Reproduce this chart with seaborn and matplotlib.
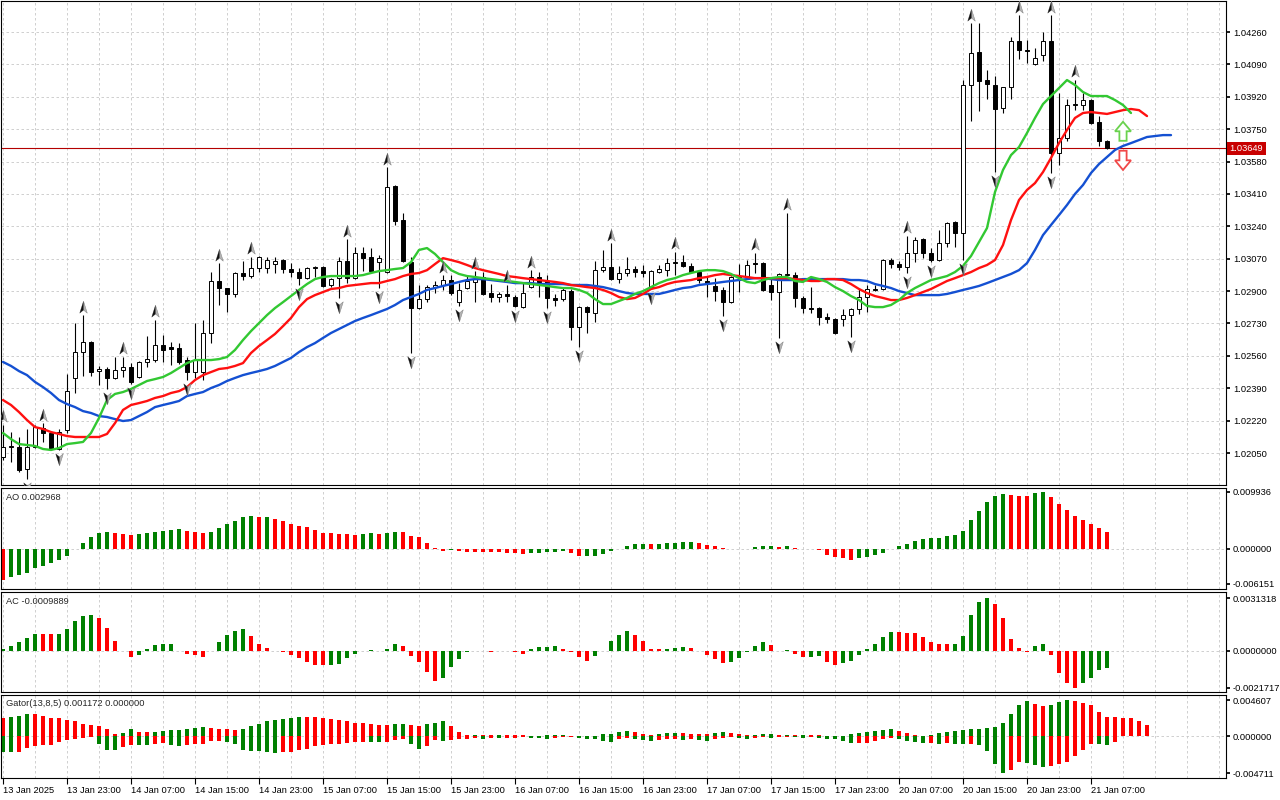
import numpy as np
import pandas as pd
import matplotlib
matplotlib.use("Agg")
import matplotlib.pyplot as plt
import matplotlib.transforms as mtransforms
from matplotlib.path import Path
from matplotlib.patches import Polygon
import seaborn as sns

# ---------------- data (H1 bars, 13 Jan 15:00 -> 21 Jan 09:00) ----------------
opens = [
    1.02029, 1.02081, 1.02081, 1.01966, 1.02081, 1.02181, 1.02155, 1.02071, 1.02171, 1.02444,
    1.02580, 1.02633, 1.02480, 1.02491, 1.02444, 1.02485, 1.02501, 1.02449, 1.02528, 1.02538,
    1.02617, 1.02606, 1.02601, 1.02538, 1.02475, 1.02475, 1.02680, 1.02953, 1.02916, 1.02884,
    1.02995, 1.02979, 1.03021, 1.03021, 1.03042, 1.03063, 1.03016, 1.03000, 1.02968, 1.03021,
    1.03026, 1.02932, 1.02968, 1.03058, 1.02968, 1.03100, 1.03079, 1.03052, 1.03000, 1.03451,
    1.03273, 1.03052, 1.02811, 1.02858, 1.02921, 1.02932, 1.02958, 1.02842, 1.02916, 1.02947,
    1.02974, 1.02890, 1.02869, 1.02884, 1.02869, 1.02816, 1.02921, 1.02974, 1.02953, 1.02863,
    1.02858, 1.02900, 1.02711, 1.02816, 1.02785, 1.03010, 1.03026, 1.02963, 1.02995, 1.03016,
    1.03005, 1.02921, 1.03000, 1.03010, 1.03047, 1.03052, 1.03031, 1.03000, 1.02953, 1.02927,
    1.02905, 1.02842, 1.02974, 1.02979, 1.03047, 1.03047, 1.02932, 1.02895, 1.02984, 1.02984,
    1.02863, 1.02811, 1.02811, 1.02764, 1.02753, 1.02753, 1.02774, 1.02806, 1.02869, 1.02905,
    1.02911, 1.03063, 1.03042, 1.03026, 1.03100, 1.03173, 1.03100, 1.03063, 1.03152, 1.03262,
    1.03205, 1.03982, 1.04155, 1.04008, 1.03982, 1.03861, 1.03971, 1.04213, 1.04165, 1.04092,
    1.04139, 1.04213, 1.03625, 1.03703, 1.03877, 1.03877, 1.03903, 1.03787, 1.03688,
]
highs = [
    1.02197, 1.02160, 1.02134, 1.02176, 1.02197, 1.02207, 1.02160, 1.02176, 1.02465, 1.02732,
    1.02774, 1.02638, 1.02507, 1.02501, 1.02554, 1.02554, 1.02522, 1.02533, 1.02664, 1.02748,
    1.02669, 1.02633, 1.02627, 1.02554, 1.02732, 1.02748, 1.03000, 1.03047, 1.02916, 1.03000,
    1.03058, 1.03079, 1.03084, 1.03079, 1.03079, 1.03068, 1.03047, 1.03021, 1.03026, 1.03031,
    1.03031, 1.02968, 1.03079, 1.03173, 1.03131, 1.03131, 1.03126, 1.03089, 1.03551, 1.03457,
    1.03310, 1.03079, 1.02932, 1.02932, 1.02953, 1.02984, 1.02984, 1.02942, 1.02979, 1.03005,
    1.03000, 1.02937, 1.02895, 1.02932, 1.02879, 1.02942, 1.03010, 1.03000, 1.02984, 1.02884,
    1.02916, 1.02911, 1.02821, 1.02821, 1.03058, 1.03115, 1.03152, 1.03031, 1.03079, 1.03031,
    1.03037, 1.03010, 1.03037, 1.03073, 1.03105, 1.03089, 1.03047, 1.03010, 1.02974, 1.02968,
    1.02921, 1.02979, 1.03042, 1.03063, 1.03100, 1.03052, 1.02963, 1.02995, 1.03310, 1.03000,
    1.02874, 1.02921, 1.02816, 1.02785, 1.02758, 1.02806, 1.02811, 1.02916, 1.02932, 1.02932,
    1.03068, 1.03073, 1.03058, 1.03189, 1.03184, 1.03178, 1.03126, 1.03220, 1.03262, 1.03268,
    1.04008, 1.04307, 1.04307, 1.04060, 1.04029, 1.03971, 1.04234, 1.04349, 1.04218, 1.04176,
    1.04260, 1.04349, 1.03940, 1.03908, 1.04008, 1.03940, 1.03908, 1.03819, 1.03693,
]
lows = [
    1.02013, 1.02002, 1.01950, 1.01913, 1.02076, 1.02108, 1.02066, 1.02066, 1.02155, 1.02365,
    1.02454, 1.02454, 1.02407, 1.02386, 1.02438, 1.02449, 1.02412, 1.02444, 1.02501, 1.02528,
    1.02528, 1.02512, 1.02517, 1.02433, 1.02444, 1.02433, 1.02627, 1.02827, 1.02790, 1.02869,
    1.02958, 1.02968, 1.03000, 1.02995, 1.02995, 1.02995, 1.02974, 1.02932, 1.02963, 1.02974,
    1.02921, 1.02921, 1.02863, 1.02942, 1.02963, 1.03005, 1.03000, 1.02916, 1.02995, 1.03247,
    1.03052, 1.02575, 1.02806, 1.02842, 1.02890, 1.02905, 1.02879, 1.02821, 1.02911, 1.02842,
    1.02879, 1.02842, 1.02842, 1.02842, 1.02816, 1.02811, 1.02916, 1.02869, 1.02811, 1.02821,
    1.02848, 1.02643, 1.02606, 1.02680, 1.02737, 1.03000, 1.02958, 1.02942, 1.02979, 1.02974,
    1.02974, 1.02911, 1.02995, 1.02979, 1.02984, 1.03026, 1.02995, 1.02942, 1.02869, 1.02848,
    1.02769, 1.02837, 1.02895, 1.02974, 1.02995, 1.02900, 1.02853, 1.02653, 1.02979, 1.02816,
    1.02785, 1.02785, 1.02722, 1.02732, 1.02674, 1.02716, 1.02659, 1.02779, 1.02790, 1.02900,
    1.02905, 1.03021, 1.03010, 1.02995, 1.03052, 1.03073, 1.03052, 1.03058, 1.03131, 1.03131,
    1.03063, 1.03793, 1.03845, 1.03908, 1.03525, 1.03835, 1.03908, 1.04118, 1.04097, 1.04087,
    1.04108, 1.03520, 1.03562, 1.03688, 1.03850, 1.03850, 1.03777, 1.03661, 1.03646,
]
closes = [
    1.02081, 1.02087, 1.01961, 1.02081, 1.02186, 1.02155, 1.02071, 1.02160, 1.02375, 1.02580,
    1.02633, 1.02475, 1.02491, 1.02444, 1.02485, 1.02501, 1.02423, 1.02528, 1.02543, 1.02617,
    1.02591, 1.02596, 1.02528, 1.02475, 1.02538, 1.02680, 1.02953, 1.02916, 1.02884, 1.02995,
    1.02979, 1.03021, 1.03079, 1.03063, 1.03058, 1.03016, 1.03000, 1.02968, 1.03021, 1.03026,
    1.02927, 1.02963, 1.03058, 1.02968, 1.03100, 1.03073, 1.03005, 1.03073, 1.03446, 1.03268,
    1.03058, 1.02811, 1.02858, 1.02921, 1.02932, 1.02958, 1.02890, 1.02905, 1.02953, 1.02963,
    1.02884, 1.02869, 1.02884, 1.02874, 1.02821, 1.02890, 1.02974, 1.02947, 1.02863, 1.02853,
    1.02905, 1.02711, 1.02816, 1.02790, 1.03010, 1.03026, 1.02963, 1.02995, 1.03016, 1.03000,
    1.02995, 1.03005, 1.03016, 1.03047, 1.03052, 1.03031, 1.03000, 1.02958, 1.02942, 1.02900,
    1.02842, 1.02974, 1.02979, 1.03037, 1.03042, 1.02905, 1.02895, 1.02989, 1.02989, 1.02863,
    1.02811, 1.02806, 1.02764, 1.02753, 1.02680, 1.02774, 1.02806, 1.02869, 1.02911, 1.02911,
    1.03063, 1.03042, 1.03026, 1.03100, 1.03168, 1.03100, 1.03063, 1.03152, 1.03257, 1.03205,
    1.03982, 1.04150, 1.04003, 1.03987, 1.03856, 1.03971, 1.04213, 1.04165, 1.04160, 1.04123,
    1.04213, 1.03625, 1.03703, 1.03877, 1.03882, 1.03903, 1.03782, 1.03688, 1.03649,
]

# Alligator lines (already shifted forward: jaw +8, teeth +5, lips +3)
jaw = [
    1.02528, 1.02507, 1.02480, 1.02459, 1.02423, 1.02396, 1.02365, 1.02328, 1.02307, 1.02291,
    1.02270, 1.02260, 1.02244, 1.02239, 1.02228, 1.02218, 1.02223, 1.02244, 1.02265, 1.02291,
    1.02302, 1.02312, 1.02323, 1.02349, 1.02360, 1.02370, 1.02391, 1.02407, 1.02428, 1.02444,
    1.02459, 1.02470, 1.02480, 1.02491, 1.02507, 1.02528, 1.02549, 1.02580, 1.02606, 1.02627,
    1.02654, 1.02680, 1.02701, 1.02722, 1.02743, 1.02759, 1.02774, 1.02790, 1.02806, 1.02827,
    1.02853, 1.02869, 1.02885, 1.02906, 1.02916, 1.02927, 1.02937, 1.02948, 1.02958, 1.02963,
    1.02963, 1.02958, 1.02953, 1.02948, 1.02942, 1.02942, 1.02942, 1.02937, 1.02937, 1.02937,
    1.02937, 1.02932, 1.02932, 1.02932, 1.02927, 1.02921, 1.02911, 1.02900, 1.02890, 1.02885,
    1.02885, 1.02885, 1.02885, 1.02895, 1.02906, 1.02916, 1.02921, 1.02932, 1.02937, 1.02942,
    1.02948, 1.02953, 1.02958, 1.02963, 1.02968, 1.02968, 1.02963, 1.02958, 1.02958, 1.02958,
    1.02963, 1.02963, 1.02963, 1.02963, 1.02963, 1.02963, 1.02958, 1.02958, 1.02953, 1.02937,
    1.02927, 1.02916, 1.02900, 1.02890, 1.02879, 1.02879, 1.02879, 1.02879, 1.02885, 1.02895,
    1.02906, 1.02916, 1.02927, 1.02942, 1.02958, 1.02974, 1.02990, 1.03010, 1.03047, 1.03116,
    1.03194, 1.03247, 1.03299, 1.03352, 1.03410, 1.03457, 1.03520, 1.03567, 1.03604, 1.03641,
    1.03662, 1.03677, 1.03693, 1.03709, 1.03714, 1.03719, 1.03719,
]
teeth = [
    1.02328, 1.02302, 1.02265, 1.02223, 1.02186, 1.02176, 1.02160, 1.02150, 1.02139, 1.02134,
    1.02134, 1.02134, 1.02134, 1.02150, 1.02207, 1.02276, 1.02302, 1.02312, 1.02323, 1.02339,
    1.02349, 1.02365, 1.02375, 1.02396, 1.02433, 1.02459, 1.02475, 1.02491, 1.02496, 1.02507,
    1.02522, 1.02575, 1.02612, 1.02643, 1.02675, 1.02716, 1.02759, 1.02816, 1.02858, 1.02879,
    1.02895, 1.02911, 1.02916, 1.02927, 1.02932, 1.02937, 1.02942, 1.02942, 1.02953, 1.02963,
    1.02979, 1.02990, 1.02995, 1.03010, 1.03042, 1.03073, 1.03063, 1.03052, 1.03037, 1.03021,
    1.03010, 1.03000, 1.02990, 1.02979, 1.02974, 1.02968, 1.02963, 1.02958, 1.02953, 1.02948,
    1.02942, 1.02932, 1.02927, 1.02921, 1.02916, 1.02906, 1.02890, 1.02869, 1.02858, 1.02864,
    1.02885, 1.02911, 1.02921, 1.02937, 1.02948, 1.02953, 1.02958, 1.02968, 1.02974, 1.02984,
    1.02990, 1.02984, 1.02979, 1.02974, 1.02968, 1.02968, 1.02968, 1.02968, 1.02968, 1.02963,
    1.02958, 1.02953, 1.02953, 1.02963, 1.02963, 1.02958, 1.02937, 1.02911, 1.02890, 1.02874,
    1.02864, 1.02853, 1.02853, 1.02864, 1.02879, 1.02895, 1.02911, 1.02932, 1.02953, 1.02968,
    1.02984, 1.03000, 1.03021, 1.03037, 1.03063, 1.03142, 1.03273, 1.03378, 1.03431, 1.03467,
    1.03525, 1.03599, 1.03677, 1.03746, 1.03809, 1.03835, 1.03840, 1.03835, 1.03830, 1.03840,
    1.03850, 1.03856, 1.03850, 1.03819,
]
lips = [
    1.02155, 1.02123, 1.02097, 1.02092, 1.02087, 1.02071, 1.02066, 1.02076, 1.02097, 1.02102,
    1.02108, 1.02155, 1.02234, 1.02328, 1.02360, 1.02370, 1.02386, 1.02407, 1.02428, 1.02438,
    1.02449, 1.02470, 1.02496, 1.02522, 1.02538, 1.02538, 1.02538, 1.02543, 1.02554, 1.02591,
    1.02643, 1.02690, 1.02732, 1.02774, 1.02811, 1.02842, 1.02874, 1.02906, 1.02937, 1.02963,
    1.02974, 1.02979, 1.02979, 1.02979, 1.02979, 1.02984, 1.02995, 1.03005, 1.03010, 1.03016,
    1.03021, 1.03052, 1.03116, 1.03126, 1.03095, 1.03052, 1.03010, 1.02990, 1.02979, 1.02974,
    1.02968, 1.02963, 1.02958, 1.02953, 1.02948, 1.02942, 1.02937, 1.02932, 1.02927, 1.02921,
    1.02916, 1.02916, 1.02906, 1.02890, 1.02858, 1.02832, 1.02832, 1.02848, 1.02864, 1.02885,
    1.02900, 1.02921, 1.02942, 1.02958, 1.02968, 1.02984, 1.02995, 1.03005, 1.03010, 1.03010,
    1.03005, 1.02990, 1.02968, 1.02948, 1.02942, 1.02958, 1.02968, 1.02974, 1.02974, 1.02953,
    1.02948, 1.02974, 1.02963, 1.02948, 1.02921, 1.02900, 1.02874, 1.02853, 1.02822, 1.02816,
    1.02816, 1.02827, 1.02853, 1.02890, 1.02916, 1.02937, 1.02958, 1.02968, 1.02979, 1.03000,
    1.03032, 1.03084, 1.03158, 1.03231, 1.03420, 1.03536, 1.03614, 1.03656, 1.03730, 1.03809,
    1.03882, 1.03924, 1.03966, 1.04008, 1.03982, 1.03945, 1.03924, 1.03924, 1.03924, 1.03903,
    1.03877, 1.03835,
]

ao_values = [
    -0.00540, -0.00498, -0.00462, -0.00420, -0.00342, -0.00300, -0.00252, -0.00198, -0.00120, -0.00012,
    0.00108, 0.00198, 0.00282, 0.00300, 0.00282, 0.00252, 0.00240, 0.00258, 0.00270, 0.00300,
    0.00306, 0.00330, 0.00342, 0.00318, 0.00288, 0.00282, 0.00300, 0.00360, 0.00432, 0.00480,
    0.00558, 0.00570, 0.00558, 0.00564, 0.00522, 0.00480, 0.00438, 0.00402, 0.00378, 0.00330,
    0.00282, 0.00270, 0.00258, 0.00252, 0.00246, 0.00252, 0.00270, 0.00258, 0.00270, 0.00300,
    0.00294, 0.00228, 0.00198, 0.00108, 0.00012, -0.00030, -0.00018, -0.00030, -0.00048, -0.00051,
    -0.00060, -0.00062, -0.00064, -0.00066, -0.00078, -0.00090, -0.00078, -0.00066, -0.00060, -0.00048,
    -0.00030, -0.00078, -0.00132, -0.00126, -0.00120, -0.00090, -0.00042, -0.00006, 0.00048, 0.00078,
    0.00084, 0.00078, 0.00090, 0.00102, 0.00108, 0.00120, 0.00126, 0.00108, 0.00072, 0.00054,
    0.00006, -0.00006, -0.00008, -0.00012, 0.00024, 0.00048, 0.00054, 0.00036, 0.00048, 0.00006,
    -0.00006, -0.00008, -0.00024, -0.00102, -0.00138, -0.00162, -0.00198, -0.00162, -0.00138, -0.00102,
    -0.00066, -0.00006, 0.00054, 0.00090, 0.00138, 0.00180, 0.00186, 0.00192, 0.00222, 0.00240,
    0.00318, 0.00510, 0.00660, 0.00810, 0.00918, 0.00960, 0.00936, 0.00924, 0.00918, 0.00972,
    0.009936, 0.00900, 0.00780, 0.00680, 0.00580, 0.00500, 0.00430, 0.00370, 0.002968,
]
ac_values = [
    0.000144, 0.000288, 0.000556, 0.000762, 0.00103, 0.00101, 0.000999, 0.00103, 0.00128, 0.00179,
    0.00204, 0.00214, 0.00196, 0.00134, 0.000597, -0.0000206, -0.000371, -0.000268, 0.000103, 0.000350,
    0.000412, 0.000433, -0.0000206, -0.000165, -0.000227, -0.000371, -0.0000206, 0.000556, 0.000968, 0.00117,
    0.00128, 0.000906, 0.000412, 0.000185, -0.0000206, -0.0000618, -0.000227, -0.000433, -0.000680, -0.000824,
    -0.000845, -0.000824, -0.000783, -0.000433, -0.000165, 0.000005, 0.0000412, -0.0000206, 0.000103, 0.000412,
    0.000288, -0.000309, -0.000639, -0.00124, -0.00175, -0.00161, -0.000948, -0.000474, -0.0000618, 0.000005,
    -0.0000206, -0.0000412, -0.0000206, 0.000003, -0.0000618, -0.000165, 0.000144, 0.000206, 0.000247, 0.000288,
    0.000144, -0.0000618, -0.000371, -0.000577, -0.000309, 0.000005, 0.000597, 0.000968, 0.00117, 0.000968,
    0.000597, 0.000124, 0.000103, 0.000124, 0.000185, 0.000227, 0.000185, -0.0000206, -0.000227, -0.000474,
    -0.000721, -0.000680, -0.000433, -0.0000618, 0.000288, 0.000536, 0.000350, -0.000001, 0.0000412, -0.000165,
    -0.000371, -0.000350, -0.000309, -0.000680, -0.000845, -0.000721, -0.000577, -0.000268, 0.000103, 0.000391,
    0.000845, 0.00111, 0.00110, 0.00109, 0.00105, 0.000803, 0.000556, 0.000412, 0.000402, 0.000412,
    0.000865, 0.00210, 0.00288, 0.0031318, 0.00276, 0.00196, 0.000721, 0.000185, -0.0000618, 0.000288,
    0.000412, -0.000227, -0.00130, -0.00192, -0.0021717, -0.00192, -0.00161, -0.00115, -0.0009889,
]
gator_upper = [
    0.00230, 0.00253, 0.00266, 0.00284, 0.00283, 0.00261, 0.00239, 0.00230, 0.00208, 0.00195,
    0.00155, 0.00142, 0.00128, 0.00097, 0.00031, 0.00044, 0.00089, 0.00062, 0.00053, 0.00062,
    0.00075, 0.00080, 0.00084, 0.00093, 0.00106, 0.00115, 0.00106, 0.00097, 0.00089, 0.00084,
    0.00089, 0.00128, 0.00164, 0.00195, 0.00208, 0.00222, 0.00239, 0.00253, 0.00250, 0.00248,
    0.00239, 0.00217, 0.00208, 0.00195, 0.00177, 0.00168, 0.00159, 0.00151, 0.00142, 0.00155,
    0.00159, 0.00142, 0.00133, 0.00155, 0.00177, 0.00195, 0.00133, 0.00053, 0.00018, 0.00022,
    0.00020, 0.00018, 0.00022, 0.00018, 0.00016, 0.00013, 0.00011, 0.00009, 0.00013, 0.00022,
    0.00023, 0.00009, 0.00007, 0.00004, 0.00002, 0.00027, 0.00031, 0.00062, 0.00075, 0.00062,
    0.00031, 0.00018, 0.00027, 0.00044, 0.00049, 0.00044, 0.00035, 0.00031, 0.00027, 0.00040,
    0.00053, 0.00044, 0.00031, 0.00018, 0.00022, 0.00027, 0.00031, 0.00018, 0.00022, 0.00013,
    0.00022, 0.00018, 0.00013, 0.00009, 0.00004, 0.00009, 0.00031, 0.00044, 0.00062, 0.00075,
    0.00084, 0.00089, 0.00075, 0.00044, 0.00022, 0.00009, 0.00018, 0.00044, 0.00062, 0.00075,
    0.00084, 0.00089, 0.00097, 0.00106, 0.00120, 0.00168, 0.00284, 0.00399, 0.00452, 0.00408,
    0.00390, 0.00399, 0.00443, 0.004607, 0.00447, 0.00430, 0.00399, 0.00310, 0.00253, 0.00248,
    0.00241, 0.00230, 0.00195, 0.00142,
]
gator_lower = [
    0.00199, 0.00200, 0.00197, 0.00146, 0.00124, 0.00115, 0.00111, 0.00071, 0.00044, 0.00027,
    0.00022, 0.00004, 0.00102, 0.00168, 0.00177, 0.00133, 0.00111, 0.00113, 0.00115, 0.00093,
    0.00089, 0.00115, 0.00124, 0.00115, 0.00097, 0.00093, 0.00062, 0.00058, 0.00071, 0.00102,
    0.00177, 0.00182, 0.00190, 0.00204, 0.00213, 0.00199, 0.00195, 0.00177, 0.00155, 0.00124,
    0.00111, 0.00102, 0.00093, 0.00080, 0.00071, 0.00069, 0.00071, 0.00073, 0.00066, 0.00044,
    0.00035, 0.00093, 0.00159, 0.00124, 0.00044, 0.00053, 0.00044, 0.00035, 0.00027, 0.00022,
    0.00027, 0.00022, 0.00024, 0.00022, 0.00018, 0.00013, 0.00018, 0.00022, 0.00027, 0.00018,
    0.00013, 0.00013, 0.00018, 0.00027, 0.00035, 0.00058, 0.00071, 0.00035, 0.00022, 0.00027,
    0.00044, 0.00058, 0.00044, 0.00035, 0.00027, 0.00044, 0.00035, 0.00044, 0.00058, 0.00035,
    0.00018, 0.00013, 0.00022, 0.00035, 0.00022, 0.00013, 0.00018, 0.00013, 0.00009, 0.00013,
    0.00018, 0.00013, 0.00018, 0.00027, 0.00035, 0.00058, 0.00089, 0.00086, 0.00080, 0.00058,
    0.00035, 0.00022, 0.00035, 0.00058, 0.00071, 0.00089, 0.00086, 0.00093, 0.00089, 0.00097,
    0.00102, 0.00101, 0.00111, 0.00190, 0.00354, 0.004711, 0.00434, 0.00323, 0.00337, 0.00368,
    0.00390, 0.00381, 0.00354, 0.00323, 0.00248, 0.00168, 0.00093, 0.00102, 0.00106, 0.00071,
]

fractal_up = [0, 5, 10, 15, 19, 27, 31, 43, 48, 55, 59, 63, 66, 76, 84, 94, 98, 113, 121, 127, 131, 134]
fractal_down = [3, 7, 13, 16, 23, 37, 42, 47, 51, 57, 64, 68, 72, 81, 90, 97, 106, 113, 116, 120, 124, 131]

price_ticks = [1.04260, 1.04090, 1.03920, 1.03750, 1.03580, 1.03410, 1.03240,
               1.03070, 1.02900, 1.02730, 1.02560, 1.02390, 1.02220, 1.02050]
time_labels = ["13 Jan 2025", "13 Jan 23:00", "14 Jan 07:00", "14 Jan 15:00", "14 Jan 23:00",
               "15 Jan 07:00", "15 Jan 15:00", "15 Jan 23:00", "16 Jan 07:00", "16 Jan 15:00",
               "16 Jan 23:00", "17 Jan 07:00", "17 Jan 15:00", "17 Jan 23:00", "20 Jan 07:00",
               "20 Jan 15:00", "20 Jan 23:00", "21 Jan 07:00"]
last_price = 1.03649
buy_arrow = (140, 1.03689, 1.03789)    # bar, base, tip
sell_arrow = (140, 1.03637, 1.03536)

# ---------------- style ----------------
sns.set_theme(style="white")
plt.rcParams["font.family"] = ["Liberation Sans", "DejaVu Sans"]
plt.rcParams["axes.unicode_minus"] = False

FS = 6.7
GREEN = "#008000"
RED = "#ff0000"
GRID = "#c8c8c8"
DASH = (0, (3, 3))
XMIN, XMAX = -0.25, 152.875


def rising_colors(vals, first):
    cols = [first]
    for a, b in zip(vals[:-1], vals[1:]):
        cols.append(GREEN if b > a else RED)
    return cols


def arrow_paths(up):
    s = 1 if up else -1
    full = Path([(0, s), (-0.6, -0.9 * s), (0, -0.4 * s), (0.6, -0.9 * s), (0, s)],
                [Path.MOVETO, Path.LINETO, Path.LINETO, Path.LINETO, Path.CLOSEPOLY])
    half = Path([(0, s), (-0.6, -0.9 * s), (0, -0.4 * s), (0, s)],
                [Path.MOVETO, Path.LINETO, Path.LINETO, Path.CLOSEPOLY])
    return full, half


fig = plt.figure(figsize=(12.8, 8), dpi=100)
fig.patch.set_facecolor("white")
L, W = 1 / 1280, 1225 / 1280
ax_main = fig.add_axes([L, 315 / 800, W, 484 / 800])
ax_ao = fig.add_axes([L, 211 / 800, W, 101 / 800])
ax_ac = fig.add_axes([L, 108 / 800, W, 100 / 800])
ax_gt = fig.add_axes([L, 22 / 800, W, 83 / 800])
all_axes = [ax_main, ax_ao, ax_ac, ax_gt]

label_pos = np.arange(0, 8 * len(time_labels), 8)
for ax in all_axes:
    ax.set_xlim(XMIN, XMAX)
    ax.set_facecolor("white")
    for s in ax.spines.values():
        s.set_color("black")
        s.set_linewidth(0.8)
    ax.yaxis.tick_right()
    ax.set_xticks(label_pos)
    ax.set_xticks(np.arange(0, 153, 4), minor=True)
    ax.grid(True, which="both", axis="x", color=GRID, linestyle=DASH, linewidth=0.6)
    ax.tick_params(axis="y", which="both", labelsize=FS, length=3, pad=2,
                   direction="out", colors="black", right=True, left=False)
    ax.tick_params(axis="x", which="both", labelbottom=False, length=0)
    ax.set_axisbelow(True)

# ---------------- main price panel ----------------
o = np.array(opens); h = np.array(highs); lo = np.array(lows); c = np.array(closes)
idx = np.arange(len(c))
ax_main.set_ylim(1.01882, 1.04423)
ax_main.set_yticks(price_ticks)
ax_main.set_yticklabels([f"{p:.5f}" for p in price_ticks])
ax_main.grid(True, which="major", axis="y", color=GRID, linestyle=DASH, linewidth=0.6)

ax_main.vlines(idx, lo, h, color="black", linewidth=0.8, zorder=3)
bull = c >= o
ax_main.bar(idx, np.abs(c - o), bottom=np.minimum(o, c), width=0.62,
            color=np.where(bull, "white", "black"), edgecolor="black", linewidth=0.7, zorder=4)

lines = pd.concat([
    pd.DataFrame({"bar": np.arange(len(jaw)), "price": jaw, "line": "jaw"}),
    pd.DataFrame({"bar": np.arange(len(teeth)), "price": teeth, "line": "teeth"}),
    pd.DataFrame({"bar": np.arange(len(lips)), "price": lips, "line": "lips"}),
])
sns.lineplot(data=lines, x="bar", y="price", hue="line",
             palette={"jaw": "#1450d2", "teeth": "#ff1010", "lips": "#32c832"},
             linewidth=1.7, legend=False, estimator=None, sort=False, ax=ax_main, zorder=5)
ax_main.set_xlabel("")
ax_main.set_ylabel("")

gap = 0.00045
for up, bars in ((True, fractal_up), (False, fractal_down)):
    full, half = arrow_paths(up)
    ys = [h[i] + gap if up else lo[i] - gap for i in bars]
    ax_main.plot(bars, ys, linestyle="none", marker=full, markersize=9,
                 markerfacecolor="#b4b4b4", markeredgecolor="#8a8a8a", markeredgewidth=0.4, zorder=6)
    ax_main.plot(bars, ys, linestyle="none", marker=half, markersize=9,
                 markerfacecolor="#111111", markeredgecolor="none", zorder=7)

ax_main.axhline(last_price, color="#b40000", linewidth=0.8, zorder=2)
trans = mtransforms.blended_transform_factory(ax_main.transAxes, ax_main.transData)
ax_main.text(1.003, last_price, f"{last_price:.5f}", transform=trans, color="white",
             fontsize=FS, va="center", ha="left", zorder=10, clip_on=False,
             bbox=dict(boxstyle="square,pad=0.25", facecolor="#c80000", edgecolor="none"))


def signal_arrow(ax, bar, base, tip, edge):
    head = base + (tip - base) * 0.5
    pts = [(bar - 0.45, base), (bar - 0.45, head), (bar - 1.0, head), (bar, tip),
           (bar + 1.0, head), (bar + 0.45, head), (bar + 0.45, base)]
    ax.add_patch(Polygon(pts, closed=True, facecolor="white", edgecolor=edge, linewidth=1.3, zorder=8))


signal_arrow(ax_main, *buy_arrow, "#6ad24e")
signal_arrow(ax_main, *sell_arrow, "#f04848")

# ---------------- AO ----------------
ax_ao.bar(idx, ao_values, width=0.55, color=rising_colors(ao_values, RED), linewidth=0)
ax_ao.set_ylim(-0.00703, 0.01063)
ax_ao.set_yticks([0.009936, 0.0, -0.006151])
ax_ao.set_yticklabels(["0.009936", "0.000000", "-0.006151"])
ax_ao.axhline(0, color=GRID, linestyle=DASH, linewidth=0.6, zorder=0)
ax_ao.text(0.004, 0.955, "AO 0.002968", transform=ax_ao.transAxes, fontsize=FS, va="top", ha="left")

# ---------------- AC ----------------
ax_ac.bar(idx, ac_values, width=0.55, color=rising_colors(ac_values, GREEN), linewidth=0)
ax_ac.set_ylim(-0.002427, 0.003488)
ax_ac.set_yticks([0.0031318, 0.0, -0.0021717])
ax_ac.set_yticklabels(["0.0031318", "0.0000000", "-0.0021717"])
ax_ac.axhline(0, color=GRID, linestyle=DASH, linewidth=0.6, zorder=0)
ax_ac.text(0.004, 0.955, "AC -0.0009889", transform=ax_ac.transAxes, fontsize=FS, va="top", ha="left")

# ---------------- Gator ----------------
gu = np.array(gator_upper)
gl = np.array(gator_lower)
ax_gt.bar(np.arange(len(gu)), gu, width=0.55, color=rising_colors(gator_upper, RED), linewidth=0)
ax_gt.bar(np.arange(len(gl)), -gl, width=0.55, color=rising_colors(gator_lower, GREEN), linewidth=0)
ax_gt.set_ylim(-0.005311, 0.005284)
ax_gt.set_yticks([0.004607, 0.0, -0.004711])
ax_gt.set_yticklabels(["0.004607", "0.000000", "-0.004711"])
ax_gt.axhline(0, color=GRID, linestyle=DASH, linewidth=0.6, zorder=0)
ax_gt.text(0.004, 0.955, "Gator(13,8,5) 0.001172 0.000000", transform=ax_gt.transAxes,
           fontsize=FS, va="top", ha="left")

ax_gt.set_xticklabels(time_labels, ha="left")
ax_gt.tick_params(axis="x", which="major", labelbottom=True, length=4, width=0.8,
                  labelsize=FS, pad=2, direction="out", colors="black", bottom=True)

fig.savefig("out.png", dpi=100, facecolor="white")
